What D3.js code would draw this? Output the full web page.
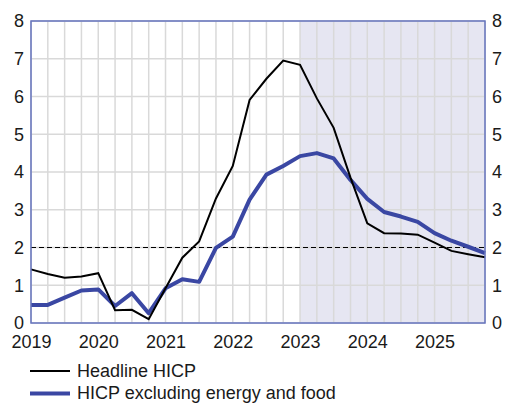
<!DOCTYPE html>
<html>
<head>
<meta charset="utf-8">
<script src="https://cdn.jsdelivr.net/npm/d3@7"></script>
<style>
  body { margin: 0; background: #fff; }
  svg { display: block; font-family: "Liberation Sans", Arial, sans-serif; }
</style>
</head>
<body>
<svg id="chart" width="506" height="403"></svg>
<script>
// quarters 2019Q1 .. 2025Q4
const quarters = d3.range(28).map(i => 2019 + i / 4);
const headline = [1.42, 1.30, 1.20, 1.23, 1.32, 0.34, 0.35, 0.10,
                  0.92, 1.73, 2.16, 3.30, 4.16, 5.91, 6.47, 6.95,
                  6.84, 5.95, 5.17, 3.85, 2.64, 2.38, 2.37, 2.34,
                  2.13, 1.91, 1.82, 1.74];
const coreHicp = [0.48, 0.48, 0.67, 0.86, 0.89, 0.45, 0.79, 0.26,
                  0.92, 1.16, 1.09, 1.99, 2.29, 3.27, 3.93, 4.16,
                  4.42, 4.50, 4.36, 3.79, 3.29, 2.94, 2.82, 2.68,
                  2.38, 2.18, 2.02, 1.85];
const yearLabels = [2019, 2020, 2021, 2022, 2023, 2024, 2025];
const yTicks = [0, 1, 2, 3, 4, 5, 6, 7, 8];
const projectionStart = 2023;
const target = 2;

const margin = { top: 21, right: 21, bottom: 80, left: 31 };
const width = 506 - margin.left - margin.right;
const height = 403 - margin.top - margin.bottom;

const blue = "#3a47a3";
const frame = "#6674bf";
const fontSize = "18px";

const svg = d3.select("#chart");
const g = svg.append("g").attr("transform", `translate(${margin.left},${margin.top})`);

const x = d3.scaleLinear().domain([2019, 2025.75]).range([0, width]);
const y = d3.scaleLinear().domain([0, 8]).range([height, 0]);

// shaded projection area
g.append("rect")
    .attr("x", x(projectionStart))
    .attr("y", 0)
    .attr("width", x(2025.75) - x(projectionStart))
    .attr("height", height)
    .attr("fill", "#e6e6f2");

// grid
g.selectAll(".vgrid")
    .data(quarters)
    .enter().append("line")
    .attr("x1", d => x(d)).attr("x2", d => x(d))
    .attr("y1", 0).attr("y2", height)
    .attr("stroke", "#d9d9d9").attr("stroke-width", 1.5);

g.selectAll(".hgrid")
    .data(yTicks)
    .enter().append("line")
    .attr("x1", 0).attr("x2", width)
    .attr("y1", d => y(d)).attr("y2", d => y(d))
    .attr("stroke", "#d9d9d9").attr("stroke-width", 1.5);

// 2% line
g.append("line")
    .attr("x1", 0).attr("x2", width)
    .attr("y1", y(target)).attr("y2", y(target))
    .attr("stroke", "#000").attr("stroke-width", 1.2)
    .attr("stroke-dasharray", "5,3");

const line = d3.line()
    .x((d, i) => x(quarters[i]))
    .y(d => y(d));

g.append("path")
    .datum(coreHicp)
    .attr("d", line)
    .attr("fill", "none")
    .attr("stroke", blue)
    .attr("stroke-width", 4)
    .attr("stroke-linejoin", "round");

g.append("path")
    .datum(headline)
    .attr("d", line)
    .attr("fill", "none")
    .attr("stroke", "#000")
    .attr("stroke-width", 2);

// frame
g.append("rect")
    .attr("width", width).attr("height", height)
    .attr("fill", "none")
    .attr("stroke", frame).attr("stroke-width", 1.5);

// axes
const yLeft = g.append("g").call(d3.axisLeft(y).tickValues(yTicks).tickSize(0).tickPadding(7));
const yRight = g.append("g").attr("transform", `translate(${width},0)`)
    .call(d3.axisRight(y).tickValues(yTicks).tickSize(0).tickPadding(7));
const xAxis = g.append("g").attr("transform", `translate(0,${height})`)
    .call(d3.axisBottom(x).tickValues(yearLabels).tickFormat(d3.format("d")).tickSize(0).tickPadding(12));

[yLeft, yRight, xAxis].forEach(a => {
    a.select(".domain").remove();
    a.selectAll("text").style("font-size", fontSize).attr("fill", "#1a1a1a");
});

// legend
const legendItems = [
    { label: "Headline HICP", color: "#000", w: 2 },
    { label: "HICP excluding energy and food", color: blue, w: 4 }
];
const legend = svg.append("g").attr("transform", "translate(30,371)");
legendItems.forEach((item, i) => {
    const row = legend.append("g").attr("transform", `translate(0,${i * 22.5})`);
    row.append("line")
        .attr("x1", 0).attr("x2", 40)
        .attr("stroke", item.color).attr("stroke-width", item.w);
    row.append("text")
        .attr("x", 47).attr("y", 5.5)
        .style("font-size", fontSize)
        .attr("fill", "#1a1a1a")
        .text(item.label);
});
</script>
</body>
</html>
